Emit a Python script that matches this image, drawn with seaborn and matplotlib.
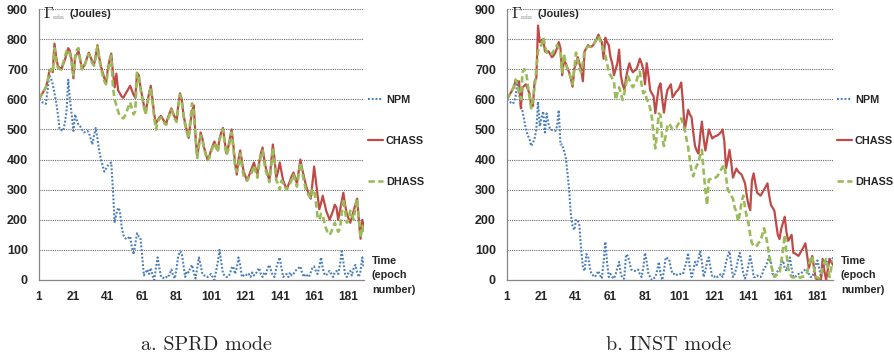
import numpy as np
import pandas as pd
import matplotlib
matplotlib.use("Agg")
import matplotlib.pyplot as plt
from matplotlib import font_manager
import seaborn as sns

# ---------------- data ----------------
EPOCHS = list(range(1, 191))
X_TICKS = [1, 21, 41, 61, 81, 101, 121, 141, 161, 181]
Y_TICKS = [0, 100, 200, 300, 400, 500, 600, 700, 800, 900]
SERIES = ["NPM", "CHASS", "DHASS"]
CAPTIONS = ["a. SPRD mode", "b. INST mode"]

# SPRD mode
SPRD_NPM = [600, 595, 590, 588, 585, 630, 680, 670, 650, 620,
            590, 550, 500, 498, 495, 520, 560, 665, 600, 550,
            495, 550, 530, 515, 510, 500, 490, 492, 495, 490,
            470, 450, 480, 505, 470, 430, 400, 380, 360, 370,
            380, 385, 390, 300, 190, 220, 240, 230, 180, 150,
            140, 135, 140, 145, 110, 85, 120, 155, 145, 140,
            80, 15, 25, 35, 20, 40, 15, 0, 40, 75,
            40, 10, 8, 5, 10, 8, 20, 35, 15, 5,
            40, 80, 95, 90, 50, 10, 30, 25, 40, 50,
            25, 5, 40, 75, 50, 20, 15, 15, 10, 15,
            20, 10, 0, 30, 60, 100, 60, 20, 15, 10,
            10, 20, 40, 45, 20, 40, 75, 50, 10, 15,
            20, 15, 20, 10, 25, 15, 20, 30, 40, 20,
            10, 25, 20, 40, 50, 30, 15, 10, 40, 60,
            75, 40, 10, 15, 20, 10, 25, 15, 20, 30,
            35, 40, 45, 25, 10, 20, 15, 10, 25, 40,
            45, 30, 20, 45, 75, 40, 20, 15, 25, 30,
            20, 10, 25, 30, 20, 50, 95, 60, 20, 10,
            25, 30, 15, 40, 50, 25, 10, 30, 75, 40]
SPRD_CHASS = [600, 610, 620, 630, 640, 660, 695, 700, 690, 785,
              740, 710, 705, 700, 715, 730, 750, 770, 760, 730,
              670, 740, 750, 760, 730, 700, 710, 720, 740, 755,
              740, 725, 715, 745, 780, 740, 710, 690, 670, 655,
              700, 730, 752, 690, 640, 685, 630, 620, 610, 605,
              615, 625, 635, 645, 630, 615, 605, 688, 680, 640,
              610, 580, 555, 590, 620, 645, 600, 550, 520, 530,
              540, 545, 535, 525, 520, 540, 555, 570, 555, 540,
              530, 580, 620, 600, 550, 520, 495, 472, 520, 560,
              580, 480, 410, 450, 490, 470, 440, 420, 400, 410,
              430, 445, 460, 445, 430, 470, 490, 505, 460, 420,
              440, 470, 500, 450, 390, 350, 400, 430, 395, 360,
              345, 330, 345, 360, 375, 390, 370, 350, 390, 420,
              440, 400, 370, 350, 330, 390, 450, 400, 340, 360,
              390, 360, 330, 315, 300, 315, 330, 345, 357, 340,
              320, 360, 400, 370, 345, 320, 300, 285, 270, 320,
              377, 330, 280, 235, 255, 280, 255, 230, 215, 200,
              215, 230, 250, 240, 200, 230, 260, 290, 250, 220,
              205, 190, 210, 230, 250, 270, 200, 137, 200, 172]
SPRD_DHASS = [600, 610, 620, 630, 640, 660, 690, 700, 690, 770,
              730, 705, 700, 700, 720, 740, 760, 765, 750, 720,
              680, 740, 765, 770, 730, 700, 705, 720, 740, 750,
              735, 720, 712, 740, 775, 735, 705, 680, 660, 650,
              690, 720, 745, 640, 600, 580, 560, 545, 540, 537,
              545, 560, 575, 590, 570, 550, 560, 688, 675, 635,
              605, 575, 550, 585, 615, 640, 590, 540, 500, 525,
              535, 540, 530, 520, 515, 535, 550, 565, 550, 535,
              525, 575, 615, 595, 545, 515, 490, 470, 530, 587,
              560, 470, 405, 445, 480, 465, 435, 415, 398, 405,
              425, 440, 455, 440, 425, 465, 485, 500, 455, 415,
              430, 460, 490, 440, 375, 360, 380, 420, 380, 345,
              335, 330, 340, 350, 360, 380, 360, 340, 380, 410,
              430, 390, 360, 345, 325, 375, 440, 390, 330, 320,
              300, 330, 320, 310, 300, 310, 320, 335, 350, 330,
              310, 350, 390, 360, 330, 305, 290, 280, 270, 300,
              300, 260, 210, 200, 220, 215, 190, 170, 155, 150,
              160, 175, 190, 175, 160, 170, 220, 270, 230, 190,
              200, 230, 215, 200, 240, 270, 200, 140, 180, 160]

# INST mode
INST_NPM = [600, 595, 590, 585, 590, 610, 660, 620, 580, 560,
            530, 500, 480, 470, 445, 455, 470, 500, 592, 510,
            540, 560, 490, 553, 520, 500, 498, 495, 495, 510,
            564, 450, 450, 430, 410, 360, 300, 220, 180, 166,
            199, 200, 180, 100, 44, 30, 86, 80, 40, 20,
            15, 10, 20, 30, 15, 5, 60, 127, 60, 10,
            20, 10, 5, 20, 40, 60, 20, 5, 5, 85,
            80, 60, 35, 32, 30, 32, 35, 20, 10, 40,
            90, 60, 20, 10, 0, 5, 10, 30, 60, 20,
            0, 30, 75, 72, 70, 40, 20, 20, 15, 20,
            20, 20, 20, 40, 60, 90, 40, 10, 30, 60,
            50, 70, 95, 60, 10, 30, 60, 75, 40, 10,
            10, 15, 10, 15, 20, 10, 30, 60, 80, 95,
            50, 10, 20, 40, 70, 90, 60, 20, 5, 20,
            50, 80, 50, 10, 10, 15, 10, 10, 20, 40,
            45, 60, 80, 60, 20, 15, 20, 30, 40, 55,
            65, 40, 30, 50, 75, 40, 10, 10, 15, 20,
            20, 25, 30, 35, 35, 20, 10, 10, 30, 50,
            65, 40, 10, 30, 50, 60, 65, 70, 60, 75]
INST_CHASS = [600, 610, 620, 630, 640, 665, 655, 660, 570, 640,
              645, 650, 635, 620, 580, 578, 660, 670, 845, 790,
              795, 800, 760, 755, 760, 750, 740, 745, 755, 770,
              790, 770, 680, 730, 720, 705, 690, 670, 642, 700,
              720, 740, 720, 700, 660, 760, 770, 780, 775, 775,
              780, 790, 800, 815, 800, 790, 735, 805, 790, 780,
              740, 720, 680, 700, 720, 765, 680, 650, 632, 670,
              700, 720, 700, 690, 695, 700, 715, 735, 720, 700,
              650, 720, 680, 630, 620, 610, 554, 600, 640, 653,
              600, 556, 600, 631, 640, 650, 607, 615, 625, 630,
              640, 656, 590, 498, 530, 565, 550, 540, 490, 445,
              430, 420, 480, 526, 470, 430, 465, 500, 485, 470,
              475, 478, 480, 485, 490, 500, 460, 371, 400, 432,
              390, 340, 355, 370, 360, 355, 350, 335, 321, 280,
              250, 232, 330, 354, 320, 290, 285, 280, 290, 300,
              310, 321, 280, 250, 240, 230, 190, 150, 136, 170,
              190, 210, 160, 130, 140, 150, 90, 88, 84, 80,
              90, 100, 110, 122, 80, 40, 60, 80, 40, 5,
              3, 2, 0, 70, 30, 0, 35, 70, 60, 50]
INST_DHASS = [600, 610, 620, 630, 645, 665, 650, 620, 600, 690,
              700, 695, 650, 610, 570, 600, 640, 700, 760, 775,
              780, 805, 780, 755, 750, 750, 750, 760, 770, 780,
              770, 760, 690, 750, 720, 700, 690, 670, 650, 700,
              755, 730, 700, 690, 720, 765, 770, 775, 775, 775,
              780, 790, 800, 810, 795, 780, 760, 745, 720, 690,
              680, 670, 660, 598, 620, 640, 620, 598, 620, 650,
              678, 665, 650, 640, 650, 660, 680, 692, 650, 620,
              625, 600, 590, 570, 540, 480, 437, 490, 553, 548,
              470, 445, 480, 510, 520, 510, 500, 502, 505, 515,
              525, 537, 520, 500, 470, 440, 400, 360, 344, 365,
              380, 390, 415, 432, 360, 300, 249, 333, 335, 340,
              340, 340, 345, 355, 365, 375, 382, 340, 300, 290,
              280, 270, 240, 227, 194, 220, 260, 280, 240, 210,
              188, 150, 122, 115, 110, 115, 125, 130, 150, 172,
              150, 120, 80, 50, 30, 10, 15, 20, 20, 60,
              100, 150, 90, 40, 20, 10, 8, 10, 10, 10,
              8, 10, 12, 15, 25, 50, 70, 80, 40, 10,
              8, 5, 20, 40, 60, 70, 40, 10, 40, 65]

PANELS = [
    {"NPM": SPRD_NPM, "CHASS": SPRD_CHASS, "DHASS": SPRD_DHASS},
    {"NPM": INST_NPM, "CHASS": INST_CHASS, "DHASS": INST_DHASS},
]

# ---------------- style ----------------
sns.set_style("white")
names = {f.name for f in font_manager.fontManager.ttflist}
SANS = "Liberation Sans Narrow" if "Liberation Sans Narrow" in names else "Liberation Sans"
SERIF = "cmr10" if "cmr10" in names else "DejaVu Serif"
plt.rcParams["font.family"] = [SANS, "DejaVu Sans"]
plt.rcParams["mathtext.fontset"] = "cm"
plt.rcParams["axes.unicode_minus"] = False

STYLE = {
    "NPM": dict(color="#4a7ebb", lw=1.5, ls=(0, (0.9, 0.9))),
    "CHASS": dict(color="#be4b48", lw=1.6, ls="-"),
    "DHASS": dict(color="#9bbb59", lw=1.9, ls=(0, (2.4, 1.3))),
}

W, H = 895, 359
fig = plt.figure(figsize=(W / 100, H / 100), dpi=100)

axes_px = [(39, 364), (507, 833)]   # left/right pixel of plot area
top_px, bot_px = 9, 280
fs = 8.6      # tick labels
fs_leg = 7.8  # legend / axis titles

for i, (x0, x1) in enumerate(axes_px):
    ax = fig.add_axes([x0 / W, (H - bot_px) / H, (x1 - x0) / W, (bot_px - top_px) / H])
    data = PANELS[i]
    for name in SERIES:
        df = pd.DataFrame({"epoch": EPOCHS, "value": data[name]})
        st = STYLE[name]
        sns.lineplot(data=df, x="epoch", y="value", ax=ax, color=st["color"],
                     linewidth=st["lw"], linestyle=st["ls"], label=name,
                     solid_joinstyle="round", dash_joinstyle="round")
    ax.set_xlim(1, 190)
    ax.set_ylim(0, 900)
    ax.set_xticks(X_TICKS)
    ax.set_yticks(Y_TICKS)
    ax.set_xticklabels([str(t) for t in X_TICKS], fontweight="bold", fontsize=fs)
    ax.set_yticklabels([str(t) for t in Y_TICKS], fontweight="bold", fontsize=fs + 0.4)
    ax.tick_params(axis="x", length=3, color="#868686", width=0.8, pad=5, direction="out")
    ax.tick_params(axis="y", length=0, pad=8)
    ax.set_xlabel("")
    ax.set_ylabel("")
    for s in ["top", "right"]:
        ax.spines[s].set_visible(False)
    for s in ["left", "bottom"]:
        ax.spines[s].set_color("#868686")
        ax.spines[s].set_linewidth(0.9)
    for yv in Y_TICKS[1:]:
        ax.axhline(yv, color="#6a6a6a", lw=0.8, ls=(0, (1, 1)), zorder=0)
    ax.set_facecolor("white")

    ax.legend(loc="upper left", bbox_to_anchor=(1.012, 0.682), frameon=False,
              borderpad=0, borderaxespad=0, handlelength=1.4, handletextpad=0.25,
              labelspacing=2.85, prop={"weight": "bold", "size": fs_leg})

    # y-axis title
    fig.text((x0 + 4) / W, 1 - 13 / H, r"$\Gamma$", fontsize=11.5, va="center", ha="left",
             color="#222222")
    fig.text((x0 + 14) / W, 1 - 17.5 / H, "min", fontsize=5.2, va="center", ha="left",
             color="#777777", family=SERIF)
    fig.text((x0 + 31) / W, 1 - 14 / H, "(Joules)", fontsize=fs_leg, fontweight="bold",
             va="center", ha="left")
    # x-axis title
    fig.text((x1 + 8) / W, 1 - 256 / H, "Time\n(epoch\nnumber)", fontsize=fs_leg,
             fontweight="bold", va="top", ha="left", linespacing=1.55)
    # caption
    fig.text((206 if i == 0 else 669) / W, 1 - 345 / H, CAPTIONS[i], fontsize=14.5,
             family=SERIF, ha="center", va="center")

fig.savefig("out.png", dpi=100, facecolor="white")
